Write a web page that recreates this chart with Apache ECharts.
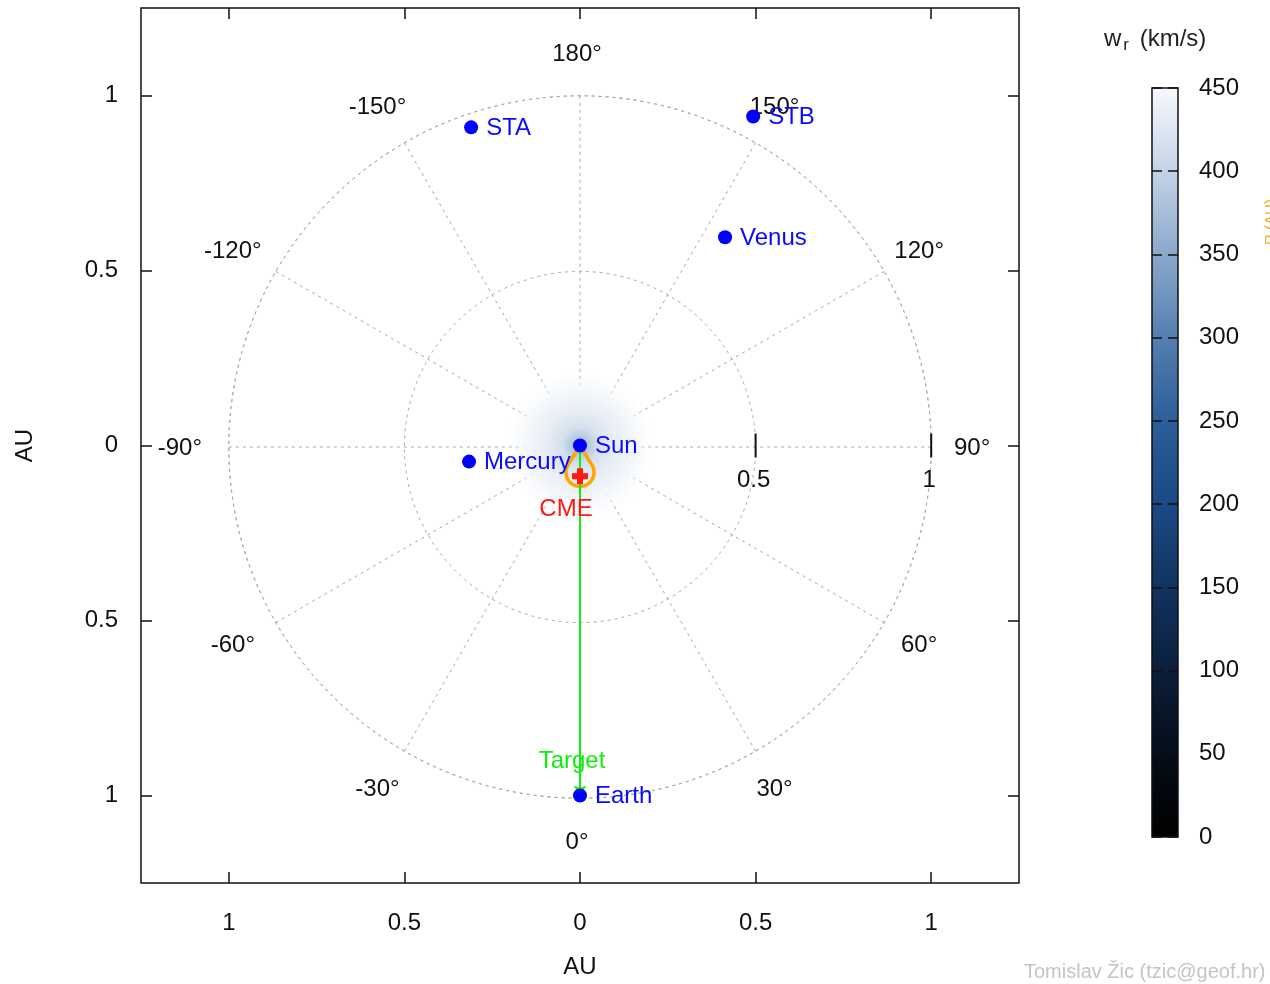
<!DOCTYPE html>
<html><head><meta charset="utf-8">
<script src="https://cdn.jsdelivr.net/npm/echarts@6/dist/echarts.min.js"></script>
<style>html,body{margin:0;padding:0;background:#fff}#c{width:1270px;height:984px}</style>
</head><body><div id="c"></div>
<script>
// ---------------- data ----------------
const axisTicks = [-1, -0.5, 0, 0.5, 1];
const bodyNames = ['Sun', 'Mercury', 'Venus', 'STA', 'STB', 'Earth'];
const bodyX = [0, -0.316, 0.413, -0.31, 0.493, 0];
const bodyY = [0, -0.046, 0.595, 0.909, 0.94, -1.0];
const cmeX = [0];
const cmeY = [-0.088];
const cmeAngle = [0];          // direction (deg), 0 = toward Earth
const cmeCenterDist = [0.077]; // AU
const cmeRadius = [0.04];      // AU
const targetX = [0];
const targetY = [-1];
const angleLabels = [0, 30, 60, 90, 120, 150, 180, -150, -120, -90, -60, -30];
const angleLabelRadius = 1.125;
const radialTicks = [0.5, 1];
const colorbarTicks = [0, 50, 100, 150, 200, 250, 300, 350, 400, 450];
const paletteValues = [0, 50, 100, 150, 200, 250, 300, 350, 400, 450];
const paletteColors = ['#000000', '#050d18', '#0b1f3b', '#12335f', '#1a4a85', '#2c5e99', '#557fb0', '#8aa8cb', '#c3d3e6', '#f7f9fc'];
const glowR = [0, 0.02, 0.05, 0.1, 0.15, 0.21];
const glowW = [345, 382, 416, 436, 446, 450];

// ---------------- helpers ----------------
function hexToRgb(h) { return [parseInt(h.substr(1,2),16), parseInt(h.substr(3,2),16), parseInt(h.substr(5,2),16)]; }
function wrColor(v, alpha) {
  let i = 0;
  while (i < paletteValues.length - 2 && v > paletteValues[i + 1]) i++;
  const t = Math.max(0, Math.min(1, (v - paletteValues[i]) / (paletteValues[i + 1] - paletteValues[i])));
  const a = hexToRgb(paletteColors[i]), b = hexToRgb(paletteColors[i + 1]);
  const c = a.map((x, k) => Math.round(x + (b[k] - x) * t));
  return 'rgba(' + c.join(',') + ',' + (alpha == null ? 1 : alpha) + ')';
}
const FONT = "'Liberation Sans', Arial, sans-serif";
const GRID_COLOR = '#a8a8a8';
const dashed = { color: GRID_COLOR, width: 1, type: [3, 4] };
const tickStyle = { color: '#111', width: 1.5 };

const chart = echarts.init(document.getElementById('c'), null, { renderer: 'canvas' });

function frameAxis(gridIndex, position, min, max, ticks, len, showLabel, labelMargin) {
  return {
    gridIndex: gridIndex, type: 'value', min: min, max: max, position: position, z: 10,
    axisLine: { show: false, onZero: false }, splitLine: { show: false },
    axisTick: { show: true, inside: true, length: len, customValues: ticks, lineStyle: tickStyle },
    axisLabel: showLabel ? { show: true, customValues: ticks, fontSize: 24, color: '#111', margin: labelMargin } : { show: false }
  };
}

const xMain = frameAxis(0, 'bottom', -1.25, 1.25, axisTicks, 11, true, 28);
xMain.axisLabel.formatter = v => String(Math.abs(v));
Object.assign(xMain, { name: 'AU', nameLocation: 'middle', nameGap: 72, nameTextStyle: { fontSize: 24, color: '#111' } });
const yMain = frameAxis(0, 'left', -1.25, 1.25, axisTicks, 11, true, 23);
yMain.axisLabel.formatter = v => String(Math.abs(v));
yMain.axisLabel.padding = [6, 0, 0, 0];
Object.assign(yMain, { name: 'AU', nameLocation: 'middle', nameGap: 104, nameTextStyle: { fontSize: 24, color: '#111' } });

const hiddenDot = { color: 'rgba(0,0,0,0)', opacity: 1 };

const option = {
  backgroundColor: '#ffffff',
  animation: false,
  textStyle: { fontFamily: FONT },
  grid: [
    { left: 141, top: 8, width: 878, height: 878, show: true, borderColor: '#111', borderWidth: 1.5, backgroundColor: 'transparent', z: 5 },
    { left: 1152, top: 88, width: 26, height: 749, show: true, borderColor: '#111', borderWidth: 1.5, backgroundColor: 'transparent', z: 5 }
  ],
  polar: { center: [580, 447], radius: 351.2 },
  angleAxis: {
    type: 'value', min: 0, max: 360, interval: 30, startAngle: 270, clockwise: false, silent: true,
    axisLine: { show: true, lineStyle: dashed }, axisTick: { show: false }, axisLabel: { show: false },
    splitLine: { show: true, lineStyle: dashed }
  },
  radiusAxis: {
    type: 'value', min: 0, max: 1, interval: 0.5, silent: true,
    axisLine: { show: false }, axisTick: { show: false }, axisLabel: { show: false },
    splitLine: { show: true, lineStyle: dashed }
  },
  xAxis: [
    xMain,
    frameAxis(0, 'top', -1.25, 1.25, axisTicks, 11, false),
    { gridIndex: 1, type: 'category', data: [''], show: false }
  ],
  yAxis: [
    yMain,
    frameAxis(0, 'right', -1.25, 1.25, axisTicks, 11, false),
    frameAxis(1, 'right', 0, 450, colorbarTicks, 10, true, 21),
    frameAxis(1, 'left', 0, 450, colorbarTicks, 10, false)
  ],
  series: [
    // colorbar gradient
    { type: 'bar', xAxisIndex: 2, yAxisIndex: 2, data: [colorbarTicks[colorbarTicks.length - 1]], barWidth: '100%', silent: true, z: 1,
      itemStyle: { opacity: 1, color: { type: 'linear', x: 0, y: 0, x2: 0, y2: 1,
        colorStops: paletteValues.map((v, i) => ({ offset: 1 - v / 450, color: paletteColors[i] })).reverse() } } },
    // sun glow (w_r field near the Sun)
    { type: 'custom', xAxisIndex: 0, yAxisIndex: 0, silent: true, z: 0, data: [[bodyX[0], bodyY[0]]],
      renderItem: (params, api) => {
        const c = api.coord([api.value(0), api.value(1)]);
        const rmax = glowR[glowR.length - 1];
        const r = api.size([rmax, 0])[0];
        return { type: 'circle', shape: { cx: c[0], cy: c[1], r: r },
          style: { fill: { type: 'radial', x: 0.5, y: 0.5, r: 0.5,
            colorStops: glowR.map((g, i) => ({ offset: g / rmax, color: wrColor(glowW[i], i === glowR.length - 1 ? 0 : 1) })) } } };
      } },
    // angle labels placed on the polar grid
    { type: 'scatter', xAxisIndex: 0, yAxisIndex: 0, symbolSize: 1, silent: true, z: 3,
      itemStyle: hiddenDot,
      data: angleLabels.map(a => {
        const t = a * Math.PI / 180;
        return { name: a + '°', value: [angleLabelRadius * Math.sin(t), -angleLabelRadius * Math.cos(t)],
          label: { offset: [a < 0 ? -5 : -3, 3] } };
      }),
      label: { show: true, position: 'inside', formatter: '{b}', fontSize: 24, color: '#111' } },
    // radial axis ticks along 90°
    { type: 'scatter', xAxisIndex: 0, yAxisIndex: 0, symbol: 'rect', symbolSize: [2, 24], silent: true, z: 3,
      itemStyle: { color: '#111', opacity: 1 },
      data: radialTicks.map(v => ({ name: String(v), value: [v, 0] })),
      label: { show: true, position: 'bottom', distance: 11, offset: [-2, 0], formatter: '{b}', fontSize: 24, color: '#111' } },
    // orange CME cone
    { type: 'custom', xAxisIndex: 0, yAxisIndex: 0, silent: true, z: 4,
      data: cmeAngle.map((a, i) => [bodyX[0], bodyY[0], a, cmeCenterDist[i], cmeRadius[i]]),
      renderItem: (params, api) => {
        const x0 = api.value(0), y0 = api.value(1), th = api.value(2) * Math.PI / 180;
        const d = api.value(3), rc = api.value(4);
        const dx = Math.sin(th), dy = -Math.cos(th);
        const cx = x0 + d * dx, cy = y0 + d * dy;
        const half = Math.asin(rc / d);
        const base = Math.atan2(dy, dx);
        const pts = [api.coord([x0, y0])];
        const n = 40;
        const angA = base + Math.PI - (Math.PI / 2 - half);
        let angB = base - Math.PI + (Math.PI / 2 - half);
        while (angB > angA) angB -= 2 * Math.PI;
        for (let k = 0; k <= n; k++) {
          const ang = angA + (angB - angA) * k / n;
          pts.push(api.coord([cx + rc * Math.cos(ang), cy + rc * Math.sin(ang)]));
        }
        pts.push(api.coord([x0, y0]));
        return { type: 'polyline', shape: { points: pts }, style: { stroke: '#ffa500', lineWidth: 3.5, fill: null } };
      } },
    // green arrow toward target
    { type: 'lines', coordinateSystem: 'cartesian2d', xAxisIndex: 0, yAxisIndex: 0, silent: true, z: 6,
      symbol: ['none', 'arrow'], symbolSize: 10,
      lineStyle: { color: '#10ee10', width: 2, opacity: 1 },
      data: targetX.map((x, i) => ({ coords: [[bodyX[0], bodyY[0]], [x, targetY[i]]] })) },
    // bodies
    { type: 'scatter', xAxisIndex: 0, yAxisIndex: 0, symbol: 'circle', symbolSize: 14, silent: true, z: 7,
      itemStyle: { color: '#0000ff', opacity: 1 },
      data: bodyNames.map((n, i) => ({ name: n, value: [bodyX[i], bodyY[i]] })),
      label: { show: true, position: 'right', distance: 8, offset: [0, 1], formatter: '{b}', fontSize: 24, color: '#0a0aff' } },
    // CME marker
    { type: 'scatter', xAxisIndex: 0, yAxisIndex: 0, silent: true, z: 8,
      symbol: 'path://M5,0H11V5H16V11H11V16H5V11H0V5H5Z', symbolSize: 16,
      itemStyle: { color: '#ff1a10', opacity: 1 },
      data: cmeX.map((x, i) => ({ name: 'CME', value: [x, cmeY[i]] })),
      label: { show: true, position: 'bottom', distance: 13, offset: [-14, 0], formatter: '{b}', fontSize: 24, color: '#ff1a10' } },
    // Target label
    { type: 'scatter', xAxisIndex: 0, yAxisIndex: 0, symbolSize: 1, silent: true, z: 8,
      itemStyle: hiddenDot,
      data: targetX.map((x, i) => ({ name: 'Target', value: [x, targetY[i]] })),
      label: { show: true, position: 'top', distance: 22, offset: [-8, 0], formatter: '{b}', fontSize: 24, color: '#10ee10' } }
  ],
  graphic: [
    { type: 'text', left: 1104, top: 27, silent: true,
      style: { text: 'w{s|r} (km/s)', font: '24px ' + FONT, fill: '#222',
        rich: { s: { fontSize: 17, fontFamily: FONT, fill: '#222', padding: [12, 4, 0, 2] } } } },
    { type: 'text', x: 1024, y: 972, silent: true,
      style: { text: 'Tomislav Žic (tzic@geof.hr)', font: '20px ' + FONT, fill: '#c4c4c4', verticalAlign: 'middle' } },
    { type: 'text', x: 1263, y: 222, rotation: Math.PI / 2, silent: true,
      style: { text: 'R (AU)', font: '15px ' + FONT, fill: '#f0b020', align: 'center', verticalAlign: 'top' } }
  ]
};
chart.setOption(option);
</script>
</body></html>
